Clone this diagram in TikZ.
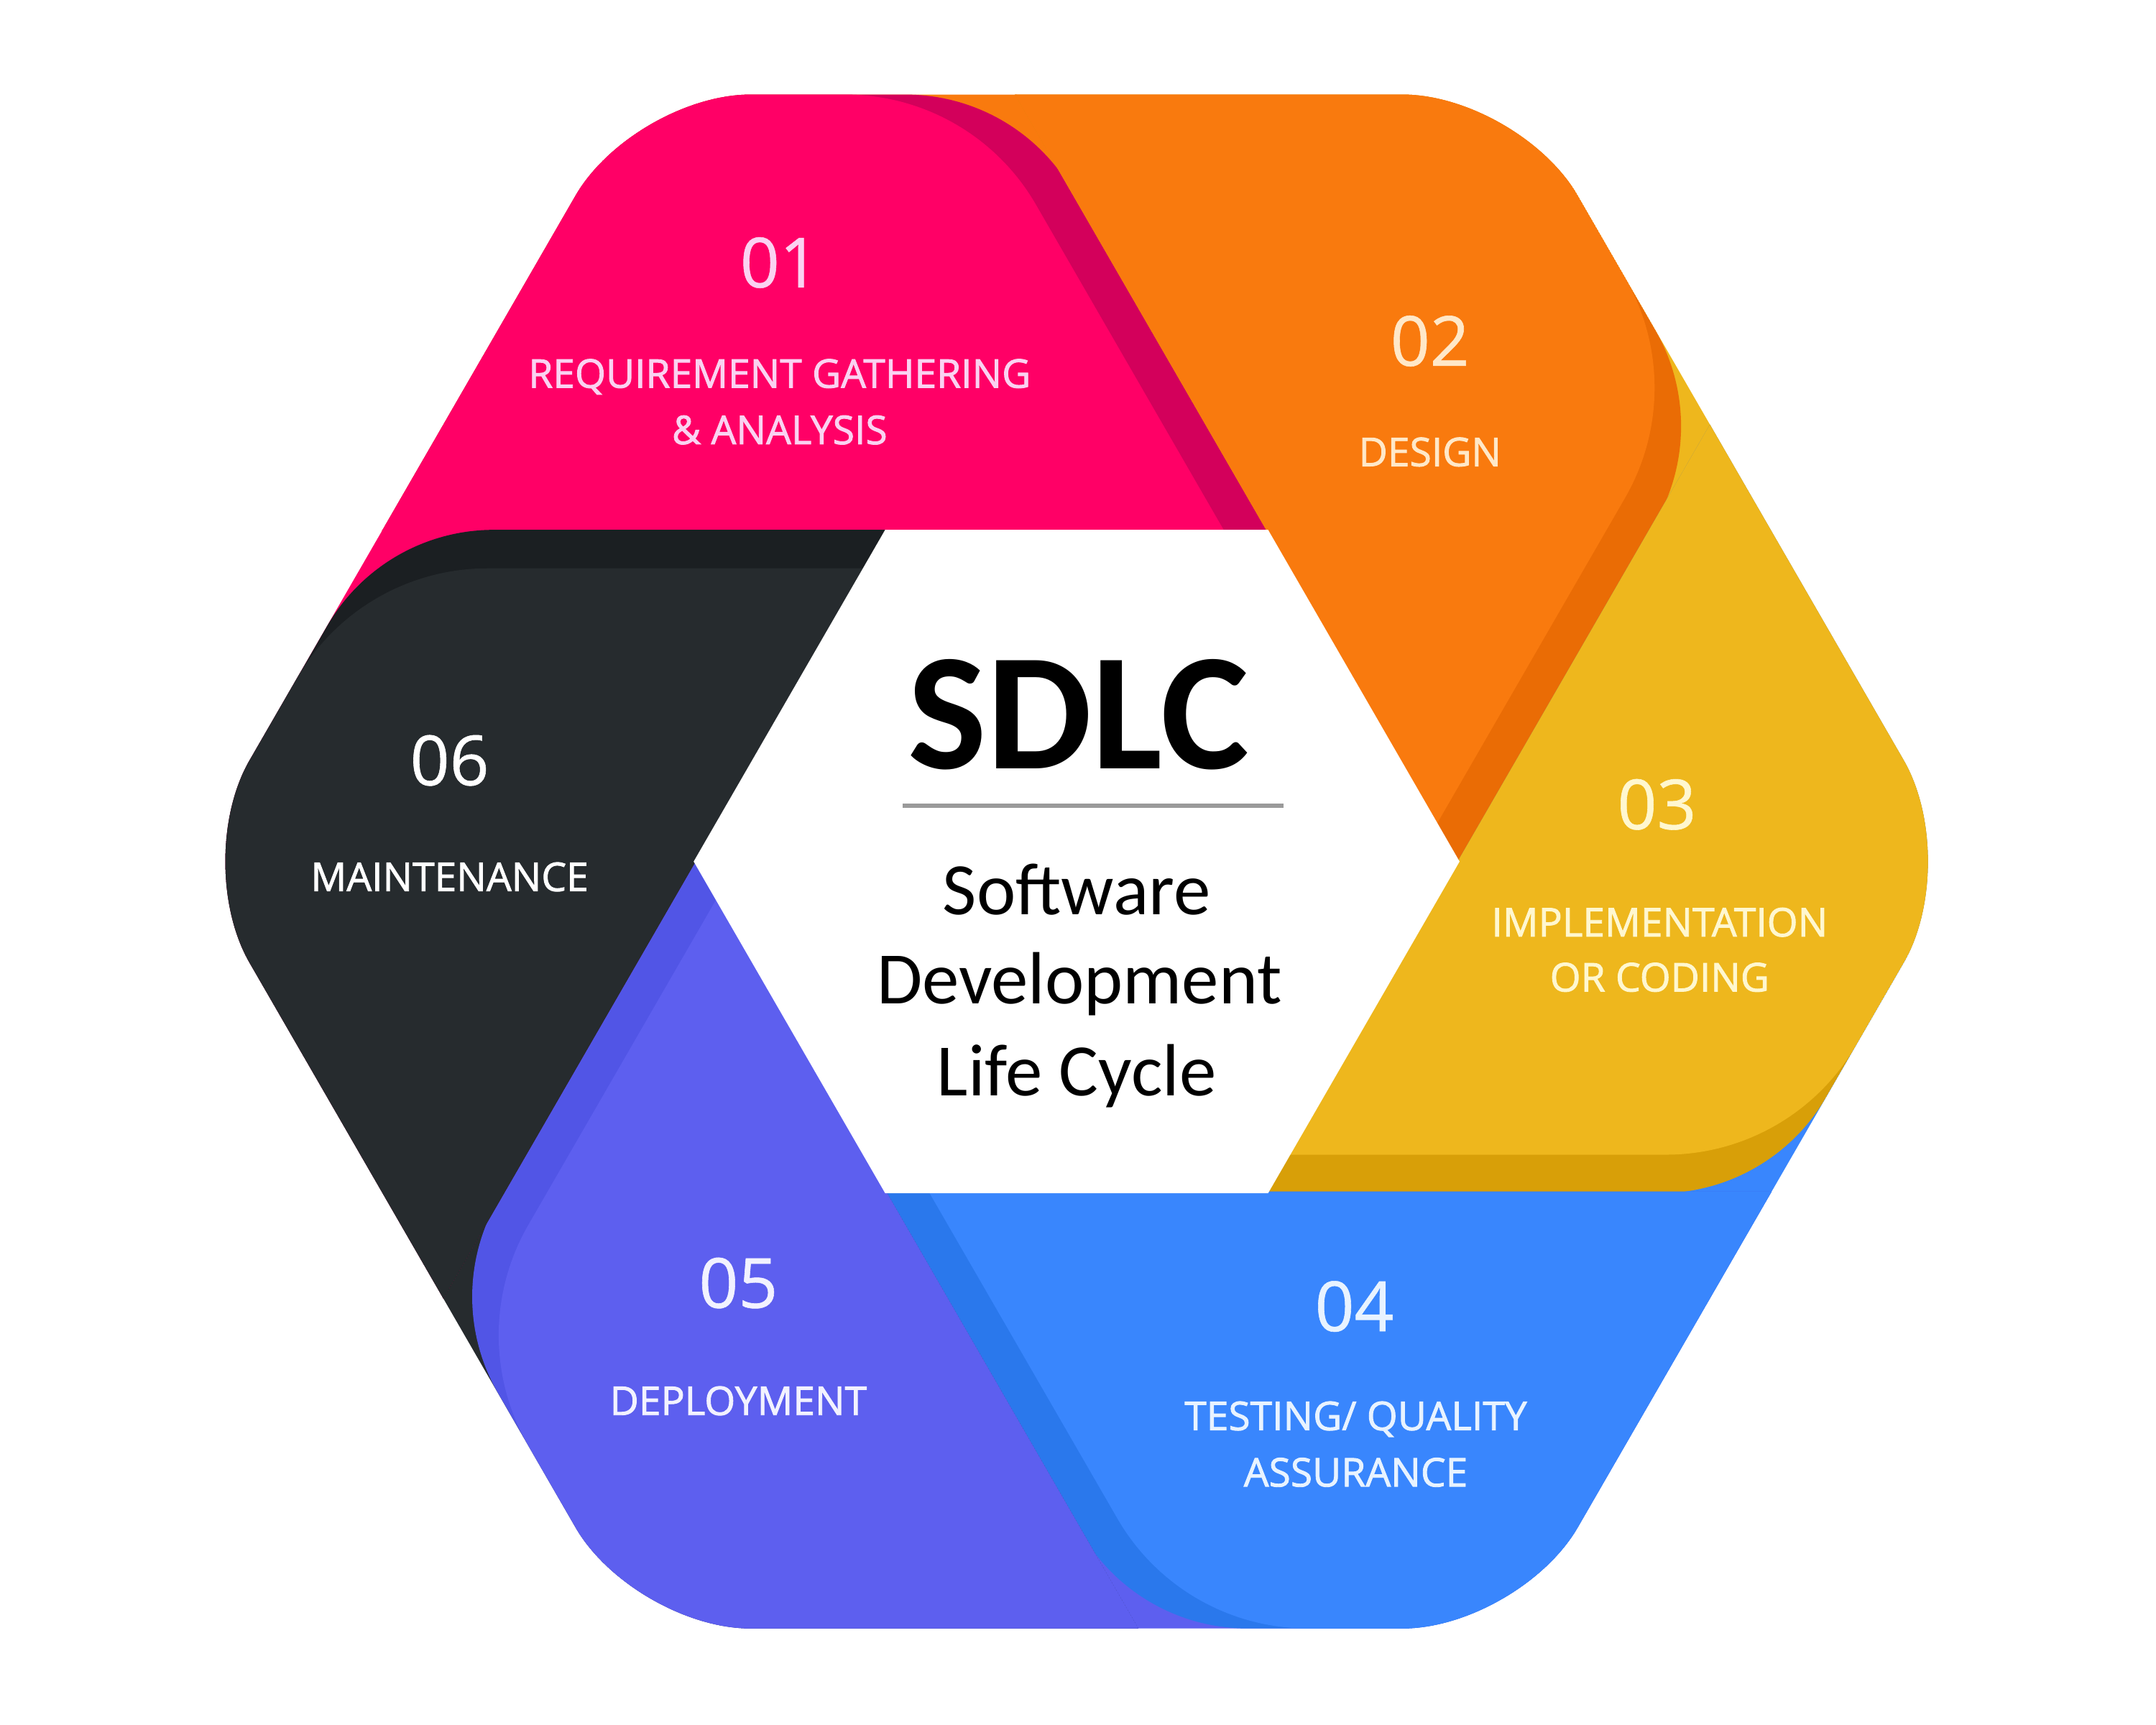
\documentclass[tikz,border=0pt]{standalone}
\usepackage{fontspec}
\setmainfont{Open Sans}
\newfontfamily\labfont{Open Sans}[FakeBold=1.6]
\newfontfamily\numfont{Open Sans}[FakeBold=0.6]
\newfontfamily\calfont{Carlito}
\usetikzlibrary{calc}

% segment colours: light face, darker fold band, text tint
\definecolor{pinkL}{HTML}{FF0066}
\definecolor{pinkD}{HTML}{D3005B}
\definecolor{pinkT}{HTML}{FAD2F1}
\definecolor{orangeL}{HTML}{F97A0E}
\definecolor{orangeD}{HTML}{EA6C05}
\definecolor{orangeT}{HTML}{FFE8C8}
\definecolor{yellowL}{HTML}{EEB71D}
\definecolor{yellowD}{HTML}{D89F08}
\definecolor{yellowT}{HTML}{FFF7CF}
\definecolor{blueL}{HTML}{3986FD}
\definecolor{blueD}{HTML}{2A78EC}
\definecolor{blueT}{HTML}{E8F3FF}
\definecolor{purpleL}{HTML}{5D5FEF}
\definecolor{purpleD}{HTML}{5155E6}
\definecolor{purpleT}{HTML}{F2F2FF}
\definecolor{blackL}{HTML}{262B2E}
\definecolor{blackD}{HTML}{1B1F22}
\definecolor{ruleG}{HTML}{9A9A9A}

% One segment of the pinwheel, drawn in the frame of segment 01 and rotated.
% #1 rotation, #2 face colour, #3 band colour, #4 colour of the segment beneath
\newcommand{\sdlcpiece}[4]{%
  \begin{scope}[rotate=#1]
    \clip (1.39943,2.4) -- (-8.6075,19.732) -- (-18.6,2.4) -- cycle;
    \fill[#4] (1.39943,2.4) -- (-8.6075,19.732) -- (-18.6,2.4) -- cycle;
    \fill[#3] (1.3925,2.412) -- (-0.0307,4.877)
      arc[start angle=30,end angle=90,radius=1.4] -- (-14,5.577) -- (-14,-10) -- cycle;
    \fill[#2] (1.15,2.272) -- (-0.2963,4.777)
      arc[start angle=30,end angle=90,radius=1.6] -- (-14,5.577) -- (-14,-10) -- cycle;
  \end{scope}}

\tikzset{
  num/.style={font=\numfont\fontsize{14.3}{16}\selectfont, anchor=base, inner sep=0pt},
  lab/.style={font=\labfont\fontsize{8.2}{10}\selectfont, anchor=base, inner sep=0pt},
  title/.style={font=\calfont\bfseries\fontsize{34.5}{40}\selectfont, anchor=base, inner sep=0pt},
  sub/.style={font=\calfont\fontsize{15.3}{18}\selectfont, anchor=base, inner sep=0pt},
}

\begin{document}
\begin{tikzpicture}
  \fill[white] (-7.83,-6.275) rectangle (7.85,6.265);
  \useasboundingbox (-7.83,-6.275) rectangle (7.85,6.265);

  % outer rounded hexagon holding the six segments
  \begin{scope}
    \clip[rounded corners=0.85cm] (4.83,2.7885) -- (60:6.44) -- (120:6.44)
      -- (180:6.44) -- (240:6.44) -- (300:6.44) -- (0:6.44) -- cycle;
    \sdlcpiece{0}{pinkL}{pinkD}{orangeL}
    \sdlcpiece{-60}{orangeL}{orangeD}{yellowL}
    \sdlcpiece{-120}{yellowL}{yellowD}{blueL}
    \sdlcpiece{-180}{blueL}{blueD}{purpleL}
    \sdlcpiece{-240}{purpleL}{purpleD}{blackL}
    \sdlcpiece{-300}{blackL}{blackD}{pinkL}
  \end{scope}

  % white core
  \fill[white] (0:2.785) -- (60:2.785) -- (120:2.785) -- (180:2.785)
    -- (240:2.785) -- (300:2.785) -- cycle;

  % centre title
  \node[title] (sdlc) at (0.015,0.675) {SDLC};
  \coordinate (ruleA) at (-1.265,0.405);
  \coordinate (ruleB) at (1.505,0.405);
  \draw[ruleG, line width=0.9pt] (ruleA) -- (ruleB);
  \node[sub] (sw) at (0,-0.385) {Software};
  \node[sub] (dev) at (0.02,-1.035) {Development};
  \node[sub] (lc) at (0,-1.705) {Life Cycle};

  % 01
  \node[num, text=pinkT] (n1) at (-2.16,4.175) {01};
  \node[lab, text=pinkT] (l1a) at (-2.16,3.445) {REQUIREMENT GATHERING};
  \node[lab, text=pinkT] (l1b) at (-2.16,3.035) {\& ANALYSIS};
  % 02
  \node[num, text=orangeT] (n2) at (2.57,3.605) {02};
  \node[lab, text=orangeT] (l2a) at (2.57,2.875) {DESIGN};
  % 03
  \node[num, text=yellowT] (n3) at (4.22,0.235) {03};
  \node[lab, text=yellowT] (l3a) at (4.24,-0.545) {IMPLEMENTATION};
  \node[lab, text=yellowT] (l3b) at (4.24,-0.945) {OR CODING};
  % 04
  \node[num, text=blueT] (n4) at (2.02,-3.415) {04};
  \node[lab, text=blueT] (l4a) at (2.03,-4.135) {TESTING/ QUALITY};
  \node[lab, text=blueT] (l4b) at (2.03,-4.545) {ASSURANCE};
  % 05
  \node[num, text=purpleT] (n5) at (-2.46,-3.245) {05};
  \node[lab, text=purpleT] (l5a) at (-2.46,-4.025) {DEPLOYMENT};
  % 06
  \node[num, text=white] (n6) at (-4.56,0.555) {06};
  \node[lab, text=white] (l6a) at (-4.56,-0.215) {MAINTENANCE};
\end{tikzpicture}
\end{document}
